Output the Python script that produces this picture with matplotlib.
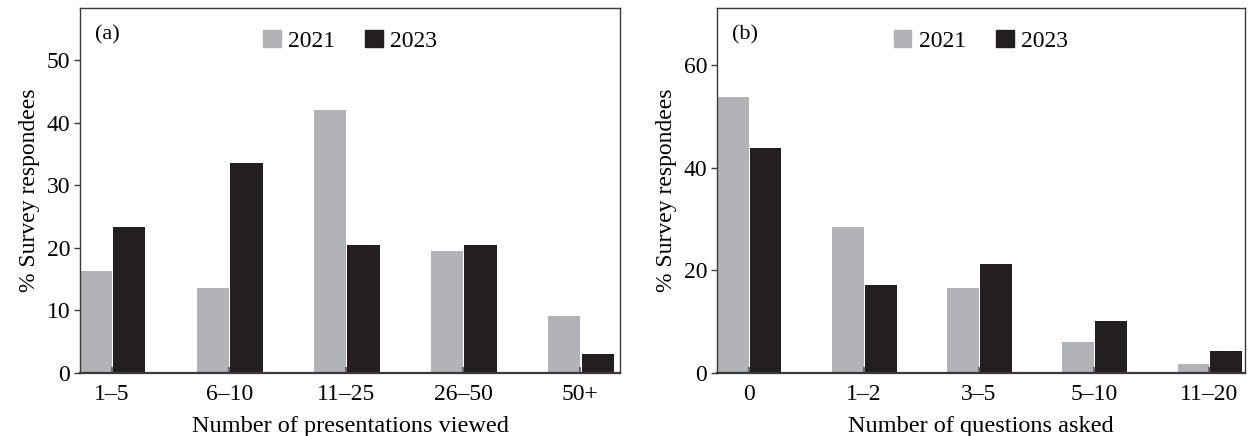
import numpy as np
import matplotlib
matplotlib.use("Agg")
import matplotlib.pyplot as plt
from matplotlib.patches import Patch

plt.rcParams['font.family'] = ['Liberation Serif', 'DejaVu Serif']

# panel (a)
viewed_labels = ["1\u20135", "6\u201310", "11\u201325", "26\u201350", "50+"]
viewed_2021 = [16.3, 13.6, 42.0, 19.5, 9.1]
viewed_2023 = [23.3, 33.5, 20.5, 20.5, 3.0]

# panel (b)
asked_labels = ["0", "1\u20132", "3\u20135", "5\u201310", "11\u201320"]
asked_2021 = [53.8, 28.5, 16.6, 6.0, 1.8]
asked_2023 = [43.9, 17.2, 21.2, 10.1, 4.3]

GREY = "#b2b3b6"
BLACK = "#231f20"
SPINE = "#3a3a3a"


def draw_panel(ax, labels, v2021, v2023, ymax, yticks, xright, xlabel, tag):
    x = np.arange(len(labels))
    w = 0.275
    ax.bar(x - w / 2, v2021, width=w, color=GREY)
    ax.bar(x + w / 2 + 0.01, v2023, width=w, color=BLACK)

    ax.set_xlim(-w, xright)
    ax.set_ylim(0, ymax)
    ax.set_xticks(x)
    ax.set_xticklabels(labels)
    ax.set_yticks(yticks)
    ax.tick_params(axis='x', direction='in', length=4, width=1.2, color='#555555',
                   labelsize=17, pad=8)
    ax.tick_params(axis='y', direction='out', length=4, width=1, color=SPINE,
                   labelsize=17, pad=3)
    for s in ax.spines.values():
        s.set_color(SPINE)
        s.set_linewidth(1.0)
    ax.spines['bottom'].set_linewidth(1.6)

    ax.set_xlabel(xlabel, fontsize=17.5, labelpad=8)
    ax.set_ylabel("% Survey respondees", fontsize=17, labelpad=5)
    ax.text(0.028, 0.925, tag, transform=ax.transAxes, fontsize=16, va='center')

    handles = [Patch(color=GREY, label="2021"), Patch(color=BLACK, label="2023")]
    ax.legend(handles=handles, loc='center', bbox_to_anchor=(0.5, 0.91), ncol=2,
              frameon=False, fontsize=17, handlelength=0.75, handleheight=0.75,
              handletextpad=0.3, columnspacing=1.3, borderpad=0)


fig = plt.figure(figsize=(12.49, 4.36), dpi=100)
ax1 = fig.add_axes([0.064, 0.1445, 0.4325, 0.8372])
ax2 = fig.add_axes([0.574, 0.1445, 0.4228, 0.8372])

draw_panel(ax1, viewed_labels, viewed_2021, viewed_2023, 58.3, [0, 10, 20, 30, 40, 50],
           4.34, "Number of presentations viewed", "(a)")
draw_panel(ax2, asked_labels, asked_2021, asked_2023, 71.1, [0, 20, 40, 60],
           4.31, "Number of questions asked", "(b)")

fig.savefig("out.png", dpi=100)
